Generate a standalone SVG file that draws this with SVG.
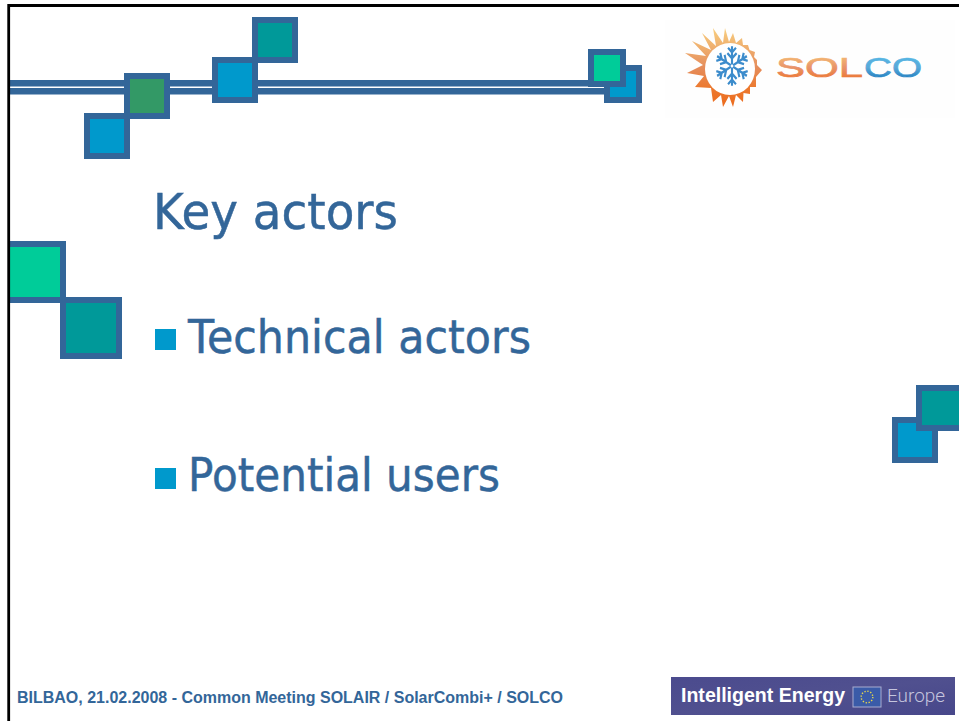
<svg xmlns="http://www.w3.org/2000/svg" width="959" height="721" viewBox="0 0 959 721">
<defs>
<linearGradient id="sunG" x1="0" y1="0" x2="0" y2="1"><stop offset="0" stop-color="#f8cf80"/><stop offset="0.5" stop-color="#e58d5c"/><stop offset="0.75" stop-color="#ec7a30"/><stop offset="1" stop-color="#ec6a1c"/></linearGradient>
<linearGradient id="orG" x1="0" y1="0" x2="0" y2="1"><stop offset="0" stop-color="#f9c877"/><stop offset="0.5" stop-color="#e8936a"/><stop offset="1" stop-color="#ee6c1e"/></linearGradient>
<linearGradient id="blG" x1="0" y1="0" x2="0" y2="1"><stop offset="0" stop-color="#52bdea"/><stop offset="0.5" stop-color="#5aa8d8"/><stop offset="1" stop-color="#0a70b8"/></linearGradient>
<linearGradient id="banG" x1="0" y1="0" x2="1" y2="1"><stop offset="0" stop-color="#4b4b8e"/><stop offset="0.5" stop-color="#50508f"/><stop offset="1" stop-color="#47478a"/></linearGradient>
<g id="arm"><path d="M0 -2V-26M0 -10L-7 -17M0 -10L7 -17M0 -18L-6 -24M0 -18L6 -24" fill="none" stroke="#3c8ccc" stroke-width="3.2"/></g>
</defs>
<style>
.sq{stroke:#336699;stroke-width:6}
.blue{fill:#0099cc}.teal{fill:#009999}.green{fill:#339966}.mint{fill:#00cc99}
.t{font-family:"DejaVu Sans",sans-serif;fill:#336699;stroke:#336699;stroke-width:0.5}
.b{font-family:"Liberation Sans",Arial,sans-serif;font-weight:bold}
</style>
<rect width="959" height="721" fill="#fff"/>
<g id="logo">
<rect x="665" y="20" width="290" height="98" fill="#fefefe"/>
<polygon fill="url(#sunG)" points="695,87 711,88 713,102 721,95 723,107 729,96 733,107 736,95 743,102 743.5,93 750,94 750,87 756,87 756,77 762,70 757,65 757,60 754,57 755,52 749.5,50 748,45 743,45 742,38 736,43 733,33 729,42 725,28 723,43 713,28 716,46 702,33 711,50 692,41 706,56 685,53 703,65 687,73 704,76"/>
<ellipse cx="730" cy="69" rx="25" ry="26" fill="#fff"/>
<g transform="translate(732,66) scale(0.66,0.76)"><use href="#arm"/><use href="#arm" transform="rotate(60)"/><use href="#arm" transform="rotate(120)"/><use href="#arm" transform="rotate(180)"/><use href="#arm" transform="rotate(240)"/><use href="#arm" transform="rotate(300)"/></g>
<text x="776" y="77" font-family="'Liberation Sans',sans-serif" font-size="28" textLength="87" lengthAdjust="spacingAndGlyphs" fill="url(#orG)" stroke="url(#orG)" stroke-width="0.7">SOL</text>
<text x="864" y="77" font-family="'Liberation Sans',sans-serif" font-size="28" textLength="58" lengthAdjust="spacingAndGlyphs" fill="url(#blG)" stroke="url(#blG)" stroke-width="0.7">CO</text>
</g>
<g id="lines"><rect x="10" y="80" width="595" height="6.5" fill="#336699"/><rect x="10" y="88" width="595" height="6.5" fill="#336699"/></g>
<g id="sq-top">
<rect class="sq blue" x="87" y="116" width="40" height="40"/>
<rect class="sq green" x="127" y="76" width="40" height="40"/>
<rect class="sq blue" x="215" y="60" width="40" height="40"/>
<rect class="sq teal" x="255" y="20" width="40" height="40"/>
<rect class="sq blue" x="607" y="68" width="32" height="32"/>
<rect class="sq mint" x="591" y="52" width="32" height="32"/>
</g>
<g id="sq-left">
<rect x="10" y="241" width="56" height="62" fill="#336699"/>
<rect class="mint" x="10" y="247" width="50" height="50"/>
<rect class="sq teal" x="63" y="300" width="56" height="56"/>
</g>
<g id="sq-right">
<rect class="sq blue" x="895" y="420" width="40" height="40"/>
<rect class="sq teal" x="919" y="388" width="46" height="40"/>
</g>
<g id="frame"><path d="M8.7 721V5.5H959" fill="none" stroke="#000" stroke-width="2.8"/></g>
<text id="title" class="t" x="153" y="229" font-size="50" textLength="245" lengthAdjust="spacingAndGlyphs">Key actors</text>
<g id="item1"><rect x="155" y="329" width="21" height="21" fill="#0099cc"/><text class="t" x="188" y="353" font-size="46" textLength="343" lengthAdjust="spacingAndGlyphs">Technical actors</text></g>
<g id="item2"><rect x="155" y="468" width="21" height="21" fill="#0099cc"/><text class="t" x="188" y="491" font-size="46" textLength="312" lengthAdjust="spacingAndGlyphs">Potential users</text></g>
<text id="footer" class="b" x="17" y="703" font-size="16" textLength="546" lengthAdjust="spacingAndGlyphs" fill="#336699">BILBAO, 21.02.2008 - Common Meeting SOLAIR / SolarCombi+ / SOLCO</text>
<g id="banner">
<rect x="671" y="677" width="284" height="38" fill="url(#banG)"/>
<text class="b" x="681" y="702" font-size="19.5" textLength="164" lengthAdjust="spacingAndGlyphs" fill="#fff">Intelligent Energy</text>
<rect x="853" y="687" width="28" height="20" fill="#3a5ba8" stroke="#a8acd0"/>
<circle cx="867" cy="697" r="5.8" fill="none" stroke="#e8d84a" stroke-width="1.4" stroke-dasharray="1.3 1.7"/>
<text x="887" y="702" font-family="Roboto,sans-serif" font-weight="300" font-size="19" textLength="58" lengthAdjust="spacingAndGlyphs" fill="#c5c5de">Europe</text>
</g>
</svg>
